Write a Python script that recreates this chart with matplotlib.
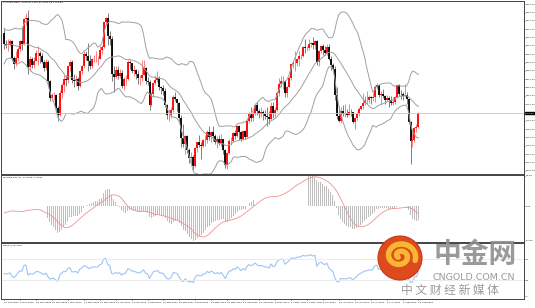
import numpy as np
import pandas as pd
import matplotlib
matplotlib.use("Agg")
import matplotlib.pyplot as plt
from matplotlib.patches import Circle

# XAUUSD daily, 22 Oct 2020 - 13 Aug 2021
# closes before the first drawn candle, only used to warm up the indicators
warmup_close = [1970, 1944, 1931, 1934, 1932, 1930, 1947, 1946, 1941, 1956, 1955, 1960, 1944, 1951,
                1912, 1900, 1863, 1868, 1862, 1881, 1898, 1886, 1906, 1900, 1913, 1877, 1887, 1893,
                1930, 1922, 1891, 1902, 1908, 1899, 1905, 1907, 1924]

close = [
    # Oct
    1904, 1902, 1902, 1908, 1878, 1868, 1879,
    # Nov
    1895, 1908, 1903, 1948, 1951, 1862, 1877, 1866, 1873, 1888, 1888, 1882, 1871, 1861, 1871, 1837,
    1806, 1811, 1811, 1788, 1776,
    # Dec
    1815, 1830, 1841, 1839, 1863, 1871, 1838, 1836, 1840, 1827, 1855, 1863, 1885, 1881, 1872, 1864,
    1877, 1877, 1877, 1877, 1893, 1898,
    # Jan
    1944, 1950, 1918, 1912, 1849, 1844, 1856, 1845, 1851, 1828, 1840, 1840, 1871, 1870, 1855, 1856,
    1850, 1843, 1843, 1848,
    # Feb
    1860, 1837, 1835, 1794, 1814, 1834, 1838, 1842, 1826, 1824, 1819, 1794, 1775, 1775, 1784, 1808,
    1805, 1797, 1770, 1734,
    # Mar
    1723, 1737, 1712, 1697, 1700, 1683, 1716, 1726, 1722, 1719, 1731, 1731, 1745, 1735, 1745, 1738,
    1727, 1733, 1725, 1732, 1712, 1685, 1707,
    # Apr
    1728, 1728, 1743, 1737, 1756, 1744, 1732, 1746, 1736, 1764, 1777, 1770, 1778, 1793, 1783, 1777,
    1780, 1777, 1773, 1772, 1768,
    # May
    1792, 1779, 1784, 1815, 1831, 1836, 1836, 1815, 1826, 1843, 1867, 1869, 1869, 1876, 1881, 1882,
    1898, 1896, 1896, 1903, 1905,
    # Jun
    1902, 1908, 1871, 1891, 1899, 1893, 1888, 1898, 1877, 1866, 1859, 1811, 1773, 1764, 1783, 1778,
    1779, 1776, 1781, 1780, 1762, 1770,
    # Jul
    1777, 1787, 1792, 1797, 1803, 1803, 1808, 1806, 1808, 1825, 1829, 1812, 1813, 1810, 1803, 1806,
    1802, 1797, 1799, 1807, 1829, 1814,
    # Aug
    1813, 1810, 1812, 1804, 1763, 1729, 1731, 1752, 1753, 1779,
]

high = [
    1931, 1911, 1912, 1912, 1911, 1882, 1890,
    1898, 1910, 1933, 1950, 1960, 1965, 1882, 1880, 1880, 1893, 1900, 1890, 1888, 1875, 1876, 1875,
    1839, 1815, 1816, 1813, 1791,
    1820, 1833, 1848, 1848, 1865, 1875, 1875, 1849, 1848, 1844, 1857, 1866, 1891, 1890, 1906, 1883,
    1879, 1883, 1890, 1882, 1900, 1902,
    1944, 1952, 1959, 1926, 1917, 1864, 1864, 1863, 1859, 1856, 1844, 1847, 1875, 1875, 1870, 1866,
    1858, 1856, 1848, 1875,
    1875, 1862, 1844, 1838, 1816, 1835, 1848, 1855, 1846, 1828, 1829, 1824, 1796, 1786, 1790, 1812,
    1816, 1805, 1799, 1775,
    1759, 1740, 1739, 1716, 1709, 1704, 1718, 1727, 1739, 1727, 1733, 1740, 1748, 1755, 1746, 1755,
    1741, 1737, 1740, 1741, 1732, 1714, 1709,
    1733, 1736, 1745, 1748, 1758, 1758, 1746, 1748, 1748, 1766, 1780, 1790, 1782, 1797, 1798, 1786,
    1789, 1784, 1784, 1790, 1782,
    1798, 1799, 1789, 1818, 1843, 1845, 1845, 1838, 1828, 1845, 1868, 1872, 1890, 1877, 1890, 1886,
    1900, 1913, 1900, 1912, 1907,
    1916, 1911, 1910, 1893, 1901, 1903, 1899, 1903, 1903, 1881, 1870, 1864, 1825, 1792, 1789, 1793,
    1795, 1786, 1795, 1787, 1781, 1772,
    1780, 1790, 1794, 1815, 1809, 1818, 1812, 1810, 1816, 1829, 1834, 1830, 1819, 1822, 1812, 1811,
    1809, 1810, 1808, 1810, 1832, 1832,
    1820, 1816, 1832, 1816, 1805, 1765, 1747, 1753, 1760, 1781,
]

low = [
    1895, 1896, 1890, 1899, 1872, 1859, 1864,
    1872, 1890, 1892, 1902, 1938, 1850, 1855, 1861, 1861, 1873, 1865, 1870, 1870, 1855, 1857, 1830,
    1800, 1800, 1803, 1781, 1764,
    1773, 1806, 1817, 1827, 1834, 1855, 1834, 1825, 1828, 1820, 1825, 1849, 1860, 1874, 1855, 1859,
    1860, 1871, 1871, 1866, 1877, 1886,
    1897, 1937, 1902, 1901, 1836, 1817, 1842, 1840, 1842, 1824, 1820, 1830, 1838, 1858, 1852, 1845,
    1840, 1832, 1829, 1836,
    1847, 1832, 1829, 1785, 1792, 1808, 1829, 1835, 1821, 1813, 1811, 1789, 1768, 1765, 1770, 1781,
    1800, 1782, 1764, 1717,
    1717, 1705, 1706, 1688, 1687, 1676, 1682, 1709, 1718, 1696, 1718, 1720, 1725, 1730, 1727, 1729,
    1723, 1716, 1722, 1720, 1705, 1680, 1678,
    1705, 1721, 1726, 1732, 1735, 1731, 1728, 1730, 1732, 1735, 1761, 1765, 1765, 1775, 1776, 1770,
    1772, 1767, 1768, 1756, 1760,
    1767, 1770, 1771, 1783, 1810, 1825, 1822, 1808, 1808, 1825, 1838, 1860, 1854, 1864, 1863, 1877,
    1880, 1888, 1890, 1893, 1898,
    1895, 1894, 1865, 1863, 1888, 1883, 1884, 1883, 1875, 1856, 1853, 1802, 1768, 1763, 1761, 1774,
    1771, 1771, 1775, 1773, 1761, 1750,
    1766, 1774, 1785, 1786, 1793, 1795, 1797, 1795, 1801, 1799, 1822, 1808, 1794, 1806, 1796, 1801,
    1789, 1794, 1793, 1796, 1806, 1810,
    1805, 1803, 1807, 1795, 1759, 1687, 1718, 1726, 1745, 1752,
]

holidays = ["2020-12-25", "2021-01-01", "2021-04-02"]

n = len(close)
closes = np.array(close, dtype=float)
opens = np.concatenate([[warmup_close[-1]], closes[:-1]])
highs = np.array(high, dtype=float)
lows = np.array(low, dtype=float)
dates = pd.bdate_range("2020-10-22", periods=n, freq="C", holidays=holidays)

# indicators on warmup + visible closes
allc = pd.Series(warmup_close + close, dtype=float)
w = len(warmup_close)
mid = allc.rolling(20).mean()
sd = allc.rolling(20).std(ddof=0)
bb_up = (mid + 2 * sd).values[w:]
bb_lo = (mid - 2 * sd).values[w:]
bb_mid = mid.values[w:]
macd = (allc.ewm(span=12, adjust=False).mean() - allc.ewm(span=26, adjust=False).mean())
signal = macd.rolling(9).mean()
macd = macd.values[w:]
signal = signal.values[w:]
d = allc.diff()
gain = d.clip(lower=0).ewm(alpha=1 / 14, adjust=False).mean()
loss = (-d.clip(upper=0)).ewm(alpha=1 / 14, adjust=False).mean()
rsi = (100 - 100 / (1 + gain / loss)).values[w:]

W, H = 535, 308
fig = plt.figure(figsize=(W / 100, H / 100), dpi=100)
fig.patch.set_facecolor("white")

def box(top, bot):
    return [0.002, 1 - bot / H, 523 / W, (bot - top) / H]

ax = fig.add_axes(box(1, 174))
ax2 = fig.add_axes(box(175, 242), sharex=ax)
ax3 = fig.add_axes(box(243, 299), sharex=ax)

x = np.arange(n)
fs = 1.7
for a in (ax, ax2, ax3):
    a.yaxis.tick_right()
    a.tick_params(axis="y", labelsize=fs, length=1.0, width=0.4, pad=0.5, colors="#222222")
    for s in a.spines.values():
        s.set_linewidth(0.7)
        s.set_color("#444444")
    a.set_xlim(-1.5, 261)

# candles
up = closes >= opens
col = np.where(up, "#ff0000", "#000000")
ax.vlines(x, lows, highs, colors=col, linewidth=0.5, alpha=0.7)
ax.vlines(x, np.minimum(opens, closes), np.maximum(opens, closes), colors=col, linewidth=1.3)
for b in (bb_up, bb_mid, bb_lo):
    ax.plot(x, b, color="#a0a0a0", linewidth=0.7)
ax.axhline(closes[-1], color="#c8c8c8", linewidth=0.6)
ax.set_ylim(1669, 1981)
yt = np.arange(1675, 1981, 15)
yt = yt[np.abs(yt - closes[-1]) > 6]
ax.set_yticks(yt)
ax.set_yticklabels(["%.2f" % v for v in yt])
ax.text(1.002, closes[-1], "%.2f" % closes[-1], transform=ax.get_yaxis_transform(),
        fontsize=fs, color="white", va="center", ha="left",
        bbox=dict(boxstyle="square,pad=0.15", fc="black", ec="black"))
ax.text(0.003, 0.993, "XAUUSD,Daily  1753.57 1780.61 1752.35 1778.99", transform=ax.transAxes,
        fontsize=fs, va="top", ha="left")
ax.tick_params(axis="x", bottom=False, labelbottom=False)

# MACD
ax2.bar(x, macd, width=0.4, color="#bdbdbd", linewidth=0)
ax2.plot(x, signal, color="#f29090", linewidth=0.6)
lo2, hi2 = np.nanmin(macd), np.nanmax(macd)
ax2.set_ylim(lo2 * 1.03, hi2 * 1.03)
ax2.set_yticks([hi2, 0, lo2])
ax2.set_yticklabels(["%.2f" % hi2, "0.00", "%.2f" % lo2])
ax2.text(0.003, 0.985, "MACD(12,26,9) %.4f %.4f" % (macd[-1], signal[-1]), transform=ax2.transAxes,
         fontsize=fs, va="top", ha="left")
ax2.tick_params(axis="x", bottom=False, labelbottom=False)

# RSI
ax3.plot(x, rsi, color="#9cc6f4", linewidth=0.8)
for lv in (70, 30):
    ax3.axhline(lv, color="#e8e8e8", linewidth=0.6)
ax3.set_ylim(-5, 100)
ax3.set_yticks([70, 30, 0])
ax3.set_yticklabels(["70", "30", "0"])
ax3.text(0.003, 0.98, "RSI(14) %.4f" % rsi[-1], transform=ax3.transAxes,
         fontsize=fs, va="top", ha="left")
ticks = np.arange(0, n, 8)
ax3.set_xticks(ticks)
ax3.set_xticklabels([dates[i].strftime("%-d %b %Y") for i in ticks])
ax3.tick_params(axis="x", labelsize=fs, length=1.0, width=0.4, pad=1)
for lab in ax3.get_xticklabels():
    lab.set_ha("left")

# watermark
wm = fig.add_axes([0, 0, 1, 1], zorder=10)
wm.set_xlim(0, W)
wm.set_ylim(H, 0)
wm.axis("off")
wm.add_patch(Circle((400, 258), 22, fc="#dc4a1e", ec="#c83a14", lw=0.8))
th = np.linspace(0.3, 3.4 * np.pi, 200)
r = 2.2 + 1.45 * th
wm.plot(400 + r * np.cos(th + 2.2) * 0.9, 256 + r * np.sin(th + 2.2) * 0.8,
        color="#f7b733", linewidth=4, solid_capstyle="round")
cjk = ["Noto Sans CJK SC", "DejaVu Sans"]
wm.text(475, 255, "中金网", family=cjk, fontsize=20, fontweight="bold", color="#8f8f8f",
        ha="center", va="center", alpha=0.9)
wm.text(474, 277, "CNGOLD.COM.CN", family="DejaVu Sans", fontsize=6.8, color="#8f8f8f",
        ha="center", va="center", alpha=0.9)
wm.text(450, 290, "中 文 财 经 新 媒 体", family=cjk, fontsize=8.5, color="#8f8f8f",
        ha="center", va="center", alpha=0.9)

fig.savefig("out.png", dpi=100)
